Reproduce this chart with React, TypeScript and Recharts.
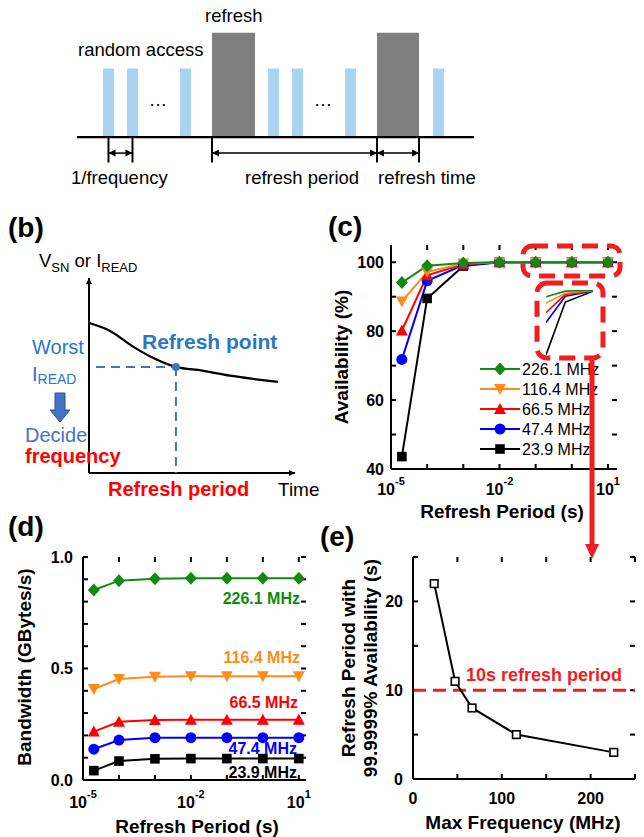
import React from 'react';
import {
  ComposedChart,
  LineChart,
  Line,
  XAxis,
  YAxis,
  ReferenceLine,
  ReferenceArea,
  ReferenceDot,
} from 'recharts';

const FONT = '"Liberation Sans", Arial, Helvetica, sans-serif';

// (a) timing diagram, time in units of 1/frequency
const accessStarts = [1.083, 2.083, 4.292, 7.958, 8.958, 11.167, 14.833];
const accessWidth = 0.458;
const refreshStarts = [5.625, 12.5];
const refreshEnds = [7.417, 14.25];
const timelineEnd = 16.54;
const accessHeight = 1;
const refreshHeight = 1.52;

// (b) V_SN / I_READ decay sketch
const decayTime = [0, 1, 2.14, 3, 4.22, 5.5, 6.84, 8, 9.17];
const decayValue = [7.69, 7.3, 6.48, 5.96, 5.44, 5.25, 4.99, 4.82, 4.67];
const refreshPointIndex = 4;

// (c), (d) refresh period sweep
const refreshPeriods = [2e-5, 1e-4, 1e-3, 1e-2, 1e-1, 1, 10];
const freqNames = ['226.1 MHz', '116.4 MHz', '66.5 MHz', '47.4 MHz', '23.9 MHz'];
const avail226 = [94.1, 99.0, 99.8, 100, 100, 100, 100];
const avail116 = [88.6, 97.2, 99.6, 100, 100, 100, 100];
const avail66 = [80.2, 96.2, 99.4, 100, 100, 100, 100];
const avail47 = [71.8, 94.6, 99.2, 100, 100, 100, 100];
const avail23 = [43.6, 89.5, 98.9, 100, 100, 100, 100];
const bw226 = [0.852, 0.894, 0.903, 0.905, 0.905, 0.905, 0.905];
const bw116 = [0.408, 0.453, 0.463, 0.465, 0.465, 0.465, 0.465];
const bw66 = [0.217, 0.261, 0.269, 0.27, 0.27, 0.27, 0.27];
const bw47 = [0.138, 0.179, 0.19, 0.19, 0.19, 0.19, 0.19];
const bw23 = [0.042, 0.085, 0.095, 0.096, 0.096, 0.096, 0.096];

// (e) refresh period reaching 99.9999 % availability
const maxFreq = [23.9, 47.4, 66.5, 116.4, 226.1];
const periodAt99 = [22, 11, 8, 5, 3];
const targetPeriod = 10;

// axis ticks
const decades = [-5, -4, -3, -2, -1, 0, 1];
const availTicks = [40, 50, 60, 70, 80, 90, 100];
const bwTicks = [0, 0.1, 0.2, 0.3, 0.4, 0.5, 0.6, 0.7, 0.8, 0.9, 1];
const freqTicks = [0, 50, 100, 150, 200, 250];
const periodTicks = [0, 5, 10, 15, 20, 25];

const GREEN = '#118a11';
const ORANGE = '#ff8c1a';
const RED = '#ff0000';
const BLUE = '#0000ff';
const BLACK = '#000000';
const SKY = '#a9d3f0';
const GRAY = '#7f7f7f';
const LBLUE = '#4472c4';
const TBLUE = '#2a78c2';
const DRED = '#f01e1e';

const series = [
  { key: 's226', name: freqNames[0], color: GREEN, shape: 'diamond' },
  { key: 's116', name: freqNames[1], color: ORANGE, shape: 'down' },
  { key: 's66', name: freqNames[2], color: RED, shape: 'up' },
  { key: 's47', name: freqNames[3], color: BLUE, shape: 'circle' },
  { key: 's23', name: freqNames[4], color: BLACK, shape: 'square' },
];

const availSets = [avail226, avail116, avail66, avail47, avail23];
const bwSets = [bw226, bw116, bw66, bw47, bw23];

const buildTable = (sets: number[][]) =>
  refreshPeriods.map((p, i) => {
    const row: any = { lp: Math.log10(p) };
    series.forEach((s, k) => (row[s.key] = sets[k][i]));
    return row;
  });

const tableC = buildTable(availSets);
const tableD = buildTable(bwSets);
const insetTable = tableC.slice(0, 3);
const tableE = maxFreq.map((f, i) => ({ f, p: periodAt99[i] }));
const decayData = decayTime.map((t, i) => ({ t, v: decayValue[i] }));
const baseline = [
  { t: 0, v: 0 },
  { t: timelineEnd, v: 0 },
];

const axisStyle = { stroke: '#000', strokeWidth: 2 };
const TICK_PX = 5;

const Marker = ({ cx, cy, shape, color }: any) => {
  if (cx == null || cy == null) return null;
  switch (shape) {
    case 'diamond':
      return <polygon points={`${cx},${cy - 6.5} ${cx + 6},${cy} ${cx},${cy + 6.5} ${cx - 6},${cy}`} fill={color} />;
    case 'down':
      return <polygon points={`${cx - 6},${cy - 5} ${cx + 6},${cy - 5} ${cx},${cy + 6}`} fill={color} />;
    case 'up':
      return <polygon points={`${cx - 6},${cy + 5} ${cx + 6},${cy + 5} ${cx},${cy - 6}`} fill={color} />;
    case 'circle':
      return <circle cx={cx} cy={cy} r={5.5} fill={color} />;
    case 'open':
      return <rect x={cx - 3.8} y={cy - 3.8} width={7.6} height={7.6} fill="#fff" stroke={color} strokeWidth={1.6} />;
    default:
      return <rect x={cx - 4.8} y={cy - 4.8} width={9.6} height={9.6} fill={color} />;
  }
};

const TickLabel = (props: any) => {
  const { x, y, payload, side, edge, fmt, log, base, gap } = props;
  const v = payload.value;
  const txt = { fontSize: 16, fontWeight: 'bold', fill: '#000', fontFamily: FONT } as any;
  if (side === 'left') {
    const s = fmt ? fmt(v) : '';
    if (!s) return <g />;
    return (
      <text x={edge - gap} y={y + 5.5} textAnchor="end" {...txt}>
        {s}
      </text>
    );
  }
  if (log) {
    if (![-5, -2, 1].includes(v)) return <g />;
    return (
      <text x={x} y={edge + base} textAnchor="middle" {...txt}>
        10
        <tspan fontSize={11} dy={-10}>
          {v}
        </tspan>
      </text>
    );
  }
  const s = fmt ? fmt(v) : '';
  if (!s) return <g />;
  return (
    <text x={x} y={edge + base} textAnchor="middle" {...txt}>
      {s}
    </text>
  );
};

const arrowHead = (dir: string, len = 7, half = 3.5) => (p: any) => {
  const { cx, cy } = p;
  let pts = '';
  if (dir === 'left') pts = `${cx},${cy} ${cx + len},${cy - half} ${cx + len},${cy + half}`;
  if (dir === 'right') pts = `${cx},${cy} ${cx - len},${cy - half} ${cx - len},${cy + half}`;
  if (dir === 'up') pts = `${cx},${cy} ${cx - half},${cy + len} ${cx + half},${cy + len}`;
  return <polygon points={pts} fill="#000" />;
};

const T = ({ x, y, size = 18.5, bold = false, color = '#000', anchor = 'start', rotate, children }: any) => (
  <text
    x={x}
    y={y}
    fontSize={size}
    fontWeight={bold ? 'bold' : 'normal'}
    fill={color}
    textAnchor={anchor}
    fontFamily={FONT}
    transform={rotate ? `rotate(${rotate} ${x} ${y})` : undefined}
  >
    {children}
  </text>
);

// chart boxes: page position, size, margins and axis room
const C = { left: 320, top: 230, width: 320, height: 280, margin: { top: 15, right: 23, bottom: 20, left: 0 }, yWidth: 71, xHeight: 21, xDomain: [-5, 1.25], yDomain: [40, 105], xTicks: decades, yTicks: availTicks };
const D = { left: 0, top: 540, width: 320, height: 290, margin: { top: 17, right: 14, bottom: 20, left: 0 }, yWidth: 83, xHeight: 30, xDomain: [-5, 1.2], yDomain: [0, 1], xTicks: decades, yTicks: bwTicks };
const E = { left: 320, top: 540, width: 324, height: 290, margin: { top: 17, right: 9, bottom: 20, left: 0 }, yWidth: 93, xHeight: 31, xDomain: [0, 250], yDomain: [0, 25], xTicks: freqTicks, yTicks: periodTicks };

// box frame: bottom/left axes with labels, top/right axis lines, inward tick marks on all sides
const frameAxes = (o: any) => {
  const pl = o.margin.left + o.yWidth;
  const pr = o.width - o.margin.right;
  const pt = o.margin.top;
  const pb = o.height - o.margin.bottom - o.xHeight;
  const [x0, x1] = o.xDomain;
  const [y0, y1] = o.yDomain;
  const dx = (TICK_PX * (x1 - x0)) / (pr - pl);
  const dy = (TICK_PX * (y1 - y0)) / (pb - pt);
  const tk = { xAxisId: 'b', yAxisId: 'l', stroke: '#000', strokeWidth: 2, ifOverflow: 'visible' as const };
  return [
    <XAxis
      key="xb"
      xAxisId="b"
      dataKey={o.xKey}
      type="number"
      domain={o.xDomain}
      ticks={o.xTicks}
      interval={0}
      height={o.xHeight}
      tickSize={0}
      tickLine={false}
      tick={<TickLabel side="bottom" edge={pb} log={o.log} base={o.xBase} fmt={o.xFmt} />}
      axisLine={axisStyle}
      allowDataOverflow
    />,
    <XAxis key="xt" xAxisId="t" orientation="top" type="number" domain={o.xDomain} height={0} tick={false} tickLine={false} axisLine={axisStyle} allowDataOverflow />,
    <YAxis
      key="yl"
      yAxisId="l"
      type="number"
      domain={o.yDomain}
      ticks={o.yTicks}
      interval={0}
      width={o.yWidth}
      tickSize={0}
      tickLine={false}
      tick={<TickLabel side="left" edge={pl} gap={o.yGap} fmt={o.yFmt} />}
      axisLine={axisStyle}
      allowDataOverflow
    />,
    <YAxis key="yr" yAxisId="r" orientation="right" type="number" domain={o.yDomain} width={0} tick={false} tickLine={false} axisLine={axisStyle} allowDataOverflow />,
    ...o.yTicks.map((v: number) => <ReferenceLine key={'tl' + v} {...tk} segment={[{ x: x0, y: v }, { x: x0 + dx, y: v }]} />),
    ...o.yTicks.map((v: number) => <ReferenceLine key={'tr' + v} {...tk} segment={[{ x: x1 - dx, y: v }, { x: x1, y: v }]} />),
    ...o.xTicks.map((v: number) => <ReferenceLine key={'tb' + v} {...tk} segment={[{ x: v, y: y0 }, { x: v, y: y0 + dy }]} />),
    ...o.xTicks.map((v: number) => <ReferenceLine key={'tt' + v} {...tk} segment={[{ x: v, y: y1 - dy }, { x: v, y: y1 }]} />),
  ];
};

const seriesLines = (withDots = true, width = 2) =>
  [...series].reverse().map((s) => (
    <Line
      key={s.key}
      xAxisId="b"
      yAxisId="l"
      dataKey={s.key}
      stroke={s.color}
      strokeWidth={width}
      isAnimationActive={false}
      dot={withDots ? (p: any) => <Marker key={p.index} cx={p.cx} cy={p.cy} shape={s.shape} color={s.color} /> : false}
    />
  ));

export default function App() {
  return (
    <div style={{ position: 'absolute', left: 0, top: 0, width: 644, height: 837, background: '#fff', fontFamily: FONT, overflow: 'hidden' }}>
      {/* (a) */}
      <div style={{ position: 'absolute', left: 0, top: 0 }}>
        <ComposedChart width={644} height={200} data={baseline} margin={{ top: 17, right: 170, bottom: 32, left: 77 }}>
          <XAxis dataKey="t" type="number" domain={[0, timelineEnd]} hide />
          <YAxis type="number" domain={[-0.45, 1.75]} hide />
          {accessStarts.map((s, i) => (
            <ReferenceArea key={'a' + i} x1={s} x2={s + accessWidth} y1={0} y2={accessHeight} fill={SKY} fillOpacity={1} stroke="none" />
          ))}
          {refreshStarts.map((s, i) => (
            <ReferenceArea key={'r' + i} x1={s} x2={refreshEnds[i]} y1={0} y2={refreshHeight} fill={GRAY} fillOpacity={1} stroke="none" />
          ))}
          <Line dataKey="v" stroke="#000" strokeWidth={2.2} dot={false} isAnimationActive={false} />
          {[accessStarts[0] + accessWidth / 2, accessStarts[1] + accessWidth / 2, refreshStarts[0], refreshStarts[1], refreshEnds[1]].map((x, i) => (
            <ReferenceLine key={'e' + i} segment={[{ x, y: 0 }, { x, y: -0.37 }]} stroke="#000" strokeWidth={2} />
          ))}
          {[
            [accessStarts[0] + accessWidth / 2, accessStarts[1] + accessWidth / 2],
            [refreshStarts[0], refreshStarts[1]],
            [refreshStarts[1], refreshEnds[1]],
          ].map(([a, b], i) => (
            <React.Fragment key={'d' + i}>
              <ReferenceLine segment={[{ x: a, y: -0.233 }, { x: b, y: -0.233 }]} stroke="#000" strokeWidth={1.5} />
              <ReferenceDot x={a} y={-0.233} r={3} shape={arrowHead('left')} />
              <ReferenceDot x={b} y={-0.233} r={3} shape={arrowHead('right')} />
            </React.Fragment>
          ))}
        </ComposedChart>
      </div>

      {/* (b) */}
      <div style={{ position: 'absolute', left: 0, top: 260 }}>
        <LineChart width={320} height={240} data={decayData} margin={{ top: 18, right: 25, bottom: 27, left: 89 }}>
          <XAxis dataKey="t" type="number" domain={[0, 10]} hide />
          <YAxis type="number" domain={[0, 10]} hide />
          <ReferenceLine segment={[{ x: 0, y: 0 }, { x: 0, y: 10 }]} stroke="#000" strokeWidth={2} />
          <ReferenceLine segment={[{ x: 0, y: 0 }, { x: 10, y: 0 }]} stroke="#000" strokeWidth={2} />
          <ReferenceDot x={0} y={10} r={3} shape={arrowHead('up', 6, 3)} />
          <ReferenceDot x={10} y={0} r={3} shape={arrowHead('right', 6, 3)} />
          <ReferenceLine
            segment={[{ x: 0.34, y: decayValue[refreshPointIndex] }, { x: decayTime[refreshPointIndex], y: decayValue[refreshPointIndex] }]}
            stroke={LBLUE}
            strokeWidth={2}
            strokeDasharray="9 6"
          />
          <ReferenceLine
            segment={[{ x: decayTime[refreshPointIndex], y: decayValue[refreshPointIndex] }, { x: decayTime[refreshPointIndex], y: 0 }]}
            stroke={LBLUE}
            strokeWidth={2}
            strokeDasharray="9 6"
          />
          <Line dataKey="v" type="monotone" stroke="#000" strokeWidth={2.2} dot={false} isAnimationActive={false} />
          <ReferenceDot x={decayTime[refreshPointIndex]} y={decayValue[refreshPointIndex]} r={4} fill={LBLUE} stroke="none" />
        </LineChart>
      </div>

      {/* (c) */}
      <div style={{ position: 'absolute', left: C.left, top: C.top }}>
        <LineChart width={C.width} height={C.height} data={tableC} margin={C.margin}>
          {frameAxes({
            ...C,
            xKey: 'lp',
            yGap: 7,
            yFmt: (v: number) => (v % 20 === 0 ? String(v) : ''),
            log: true,
            xBase: 25.5,
          })}
          {seriesLines()}
        </LineChart>
      </div>
      <div style={{ position: 'absolute', left: 546, top: 290 }}>
        <LineChart width={47} height={69} data={insetTable} margin={{ top: 0, right: 0, bottom: 0, left: 0 }}>
          <XAxis xAxisId="b" dataKey="lp" type="number" domain={[Math.log10(refreshPeriods[0]), -3]} hide />
          <YAxis yAxisId="l" type="number" domain={[40, 100]} hide />
          {seriesLines(false, 1.6)}
        </LineChart>
      </div>

      {/* (d) */}
      <div style={{ position: 'absolute', left: D.left, top: D.top }}>
        <LineChart width={D.width} height={D.height} data={tableD} margin={D.margin}>
          {frameAxes({
            ...D,
            xKey: 'lp',
            yGap: 10,
            yFmt: (v: number) => ([0, 0.5, 1].includes(v) ? v.toFixed(1) : ''),
            log: true,
            xBase: 27.5,
          })}
          {seriesLines()}
        </LineChart>
      </div>

      {/* (e) */}
      <div style={{ position: 'absolute', left: E.left, top: E.top }}>
        <LineChart width={E.width} height={E.height} data={tableE} margin={E.margin}>
          {frameAxes({
            ...E,
            xKey: 'f',
            yGap: 10,
            yFmt: (v: number) => (v % 10 === 0 ? String(v) : ''),
            xFmt: (v: number) => (v % 100 === 0 ? String(v) : ''),
            log: false,
            xBase: 24.5,
          })}
          <ReferenceLine xAxisId="b" yAxisId="l" y={targetPeriod} stroke={DRED} strokeWidth={3} strokeDasharray="13 7" />
          <Line
            xAxisId="b"
            yAxisId="l"
            dataKey="p"
            stroke="#000"
            strokeWidth={2}
            isAnimationActive={false}
            dot={(p: any) => <Marker key={p.index} cx={p.cx} cy={p.cy} shape="open" color="#000" />}
          />
        </LineChart>
      </div>

      {/* text and annotations */}
      <svg width={644} height={837} style={{ position: 'absolute', left: 0, top: 0, pointerEvents: 'none' }}>
        {/* (a) */}
        <T x={78} y={56}>random access</T>
        <T x={205} y={22}>refresh</T>
        <T x={158} y={106} anchor="middle">…</T>
        <T x={323} y={106} anchor="middle">…</T>
        <T x={71} y={184}>1/frequency</T>
        <T x={245} y={184}>refresh period</T>
        <T x={378} y={184}>refresh time</T>

        {/* (b) */}
        <T x={8} y={237} size={28} bold>(b)</T>
        <text x={39} y={267} fontSize={18.5} fontFamily={FONT} fill="#000">
          V<tspan fontSize={13} dy={5}>SN</tspan>
          <tspan fontSize={18.5} dy={-5}> or I</tspan>
          <tspan fontSize={13} dy={5}>READ</tspan>
        </text>
        <T x={142} y={349} size={21} bold color={TBLUE}>Refresh point</T>
        <T x={32} y={354} size={20} color={TBLUE}>Worst</T>
        <text x={32} y={381} fontSize={20} fontFamily={FONT} fill={TBLUE}>
          I<tspan fontSize={14} dy={3}>READ</tspan>
        </text>
        <polygon points="55,393 65,393 65,410 70,410 60,422 50,410 55,410" fill={LBLUE} stroke="#2f528f" strokeWidth={1} />
        <T x={25} y={442} size={20} color="#4a72c8">Decide</T>
        <T x={25} y={463} size={20} bold color={RED}>frequency</T>
        <T x={108} y={496} size={20} bold color={RED}>Refresh period</T>
        <T x={278} y={496} size={19}>Time</T>

        {/* (c) */}
        <T x={328} y={236} size={28} bold>(c)</T>
        <T x={348} y={357} size={19} bold anchor="middle" rotate={-90}>Availability (%)</T>
        <T x={502} y={518} size={19} bold anchor="middle">Refresh Period (s)</T>
        {series.map((s, i) => {
          const y = 369 + i * 20;
          return (
            <g key={s.key}>
              <line x1={480} x2={520} y1={y} y2={y} stroke={s.color} strokeWidth={2} />
              <Marker cx={500} cy={y} shape={s.shape} color={s.color} />
              <text x={522} y={y + 5.5} fontSize={16} fontFamily={FONT} fill="#000">{s.name}</text>
            </g>
          );
        })}
        <rect x={523} y={246} width={97} height={30} rx={9} fill="none" stroke={DRED} strokeWidth={5} strokeDasharray="16 9" />
        <rect x={537} y={283} width={66} height={75} rx={10} fill="none" stroke={DRED} strokeWidth={5} strokeDasharray="16 9" />
        <line x1={592} x2={592} y1={358} y2={546} stroke={DRED} strokeWidth={5} />
        <polygon points="585,544 599,544 592,559" fill={DRED} />

        {/* (d) */}
        <T x={8} y={536} size={28} bold>(d)</T>
        <T x={31} y={667} size={19} bold anchor="middle" rotate={-90}>Bandwidth (GBytes/s)</T>
        <T x={197} y={833} size={19} bold anchor="middle">Refresh Period (s)</T>
        <T x={300} y={604} size={16} bold anchor="end" color={GREEN}>226.1 MHz</T>
        <T x={300} y={663} size={16} bold anchor="end" color={ORANGE}>116.4 MHz</T>
        <T x={298} y={708} size={16} bold anchor="end" color={RED}>66.5 MHz</T>
        <T x={297} y={754} size={16} bold anchor="end" color={BLUE}>47.4 MHz</T>
        <T x={297} y={778} size={16} bold anchor="end" color={BLACK}>23.9 MHz</T>

        {/* (e) */}
        <T x={320} y={546} size={28} bold>(e)</T>
        <T x={355} y={668} size={19} bold anchor="middle" rotate={-90}>Refresh Period with</T>
        <T x={377} y={668} size={19} bold anchor="middle" rotate={-90}>99.9999% Availability (s)</T>
        <T x={523} y={829} size={19} bold anchor="middle">Max Frequency (MHz)</T>
        <T x={466} y={681} size={18} bold color={DRED}>10s refresh period</T>
      </svg>
    </div>
  );
}
